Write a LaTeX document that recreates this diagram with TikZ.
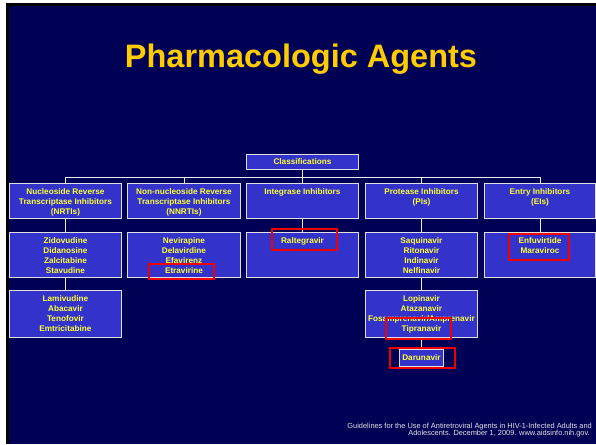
\documentclass[tikz,border=0pt]{standalone}
\usepackage{fontspec}
\setmainfont{Liberation Sans}
\usetikzlibrary{calc}
\definecolor{bgnavy}{HTML}{000055}
\definecolor{boxblue}{HTML}{3333CC}
\definecolor{boxyellow}{HTML}{FFFF33}
\definecolor{titlegold}{HTML}{FFCC00}
\definecolor{hlred}{HTML}{EE0000}
\tikzset{
  box/.style={draw=white!88!black, line width=0.9pt, fill=boxblue, inner sep=0pt, rectangle},
  txt/.style={font=\fontsize{8.2}{10}\selectfont\bfseries, text=boxyellow, align=center, inner sep=0pt},
  conn/.style={draw=white!92!black, line width=0.9pt},
  hl/.style={draw=hlred, line width=1.4pt},
  foot/.style={font=\fontsize{7.4}{8}\selectfont, text=white!90!black, inner sep=0pt, anchor=base east}
}
\newcommand\pbox[5]{%
  \node[box, anchor=north west, minimum width={(#4-#2)*1pt}, minimum height={(#5-#3)*1pt}] (#1) at (#2,#3) {};}
\newcommand\ptext[2]{%
  \node[txt, anchor=north] (#1t) at ($(#1.north)+(0,5)$) {#2};}
\begin{document}
\begin{tikzpicture}[x=1pt,y=-1pt]
\useasboundingbox (0,0) rectangle (596,444);
\fill[white] (0,0) rectangle (596,444);
\fill[black] (6,3) rectangle (596,444);
\fill[bgnavy] (9,6) rectangle (596,444);

\node[font=\fontsize{32.5}{36}\selectfont\bfseries, text=titlegold, anchor=base, inner sep=0pt] (title) at (301,67) {Pharmacologic Agents};

% boxes
\pbox{cls}{246}{154}{358}{169}
\node[txt] (clst) at (cls.center) {Classifications};

\pbox{nrti}{9}{183}{121}{218}
\pbox{nnrti}{127}{183}{240}{218}
\pbox{ii}{246}{183}{358}{218}
\pbox{pi}{365}{183}{477}{218}
\pbox{ei}{484}{183}{595}{218}

\pbox{nrtiB}{9}{232}{121}{277}
\pbox{nnrtiB}{127}{232}{240}{277}
\pbox{iiB}{246}{232}{358}{277}
\pbox{piB}{365}{232}{477}{277}
\pbox{eiB}{484}{232}{595}{277}

\pbox{nrtiC}{9}{290}{121}{337}
\pbox{piC}{365}{290}{477}{337}
\pbox{dar}{399}{349}{443}{366}
\node[txt] (dart) at (dar.center) {Darunavir};

\ptext{nrti}{Nucleoside Reverse\\Transcriptase Inhibitors\\(NRTIs)}
\ptext{nnrti}{Non-nucleoside Reverse\\Transcriptase Inhibitors\\(NNRTIs)}
\ptext{ii}{Integrase Inhibitors}
\ptext{pi}{Protease Inhibitors\\(PIs)}
\ptext{ei}{Entry Inhibitors\\(EIs)}

\ptext{nrtiB}{Zidovudine\\Didanosine\\Zalcitabine\\Stavudine}
\ptext{nnrtiB}{Nevirapine\\Delavirdine\\Efavirenz\\Etravirine}
\ptext{iiB}{Raltegravir}
\ptext{piB}{Saquinavir\\Ritonavir\\Indinavir\\Nelfinavir}
\ptext{eiB}{Enfuvirtide\\Maraviroc}

\ptext{nrtiC}{Lamivudine\\Abacavir\\Tenofovir\\Emtricitabine}
\ptext{piC}{Lopinavir\\Atazanavir\\Fosamprenavir/Amprenavir\\Tipranavir}

% connectors
\coordinate (bus) at (0,177);
\draw[conn] (cls.south) -- (cls.south |- bus);
\draw[conn] (nrti.north) -- (nrti.north |- bus) -- (ei.north |- bus) -- (ei.north);
\draw[conn] (nnrti.north) -- (nnrti.north |- bus);
\draw[conn] (ii.north) -- (ii.north |- bus);
\draw[conn] (pi.north) -- (pi.north |- bus);
\draw[conn] (nrti.south) -- (nrtiB.north);
\draw[conn] (nrtiB.south) -- (nrtiC.north);
\draw[conn] (ii.south) -- (iiB.north);
\draw[conn] (pi.south) -- (piB.north);
\draw[conn] (piB.south) -- (piC.north);
\draw[conn] (piC.south) -- (piC.south |- dar.north);
\draw[conn] (ei.south) -- (eiB.north);

% highlights
\draw[hl] (149,264) rectangle (214,279);
\draw[hl] (272,229) rectangle (337,250);
\draw[hl] (509,234) rectangle (569,260);
\draw[hl] (386,318) rectangle (451,339);
\draw[hl] (390,348) rectangle (455,368);

% footer
\node[foot] (foot1) at (592,428) {Guidelines for the Use of Antiretroviral Agents in HIV-1-Infected Adults and};
\node[foot] (foot2) at (590,435.3) {Adolescents. December 1, 2009. www.aidsinfo.nih.gov.};
\end{tikzpicture}
\end{document}
